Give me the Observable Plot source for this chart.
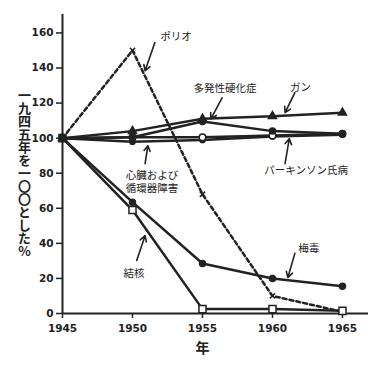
<!DOCTYPE html>
<html><head><meta charset="utf-8">
<script src="https://cdn.jsdelivr.net/npm/d3@7"></script>
<script src="https://cdn.jsdelivr.net/npm/@observablehq/plot@0.6"></script>
<style>
body{margin:0;background:#fff;}
</style>
</head><body><div id="chart"></div>
<script>
const years = [1945, 1950, 1955, 1960, 1965];
const polio = [100, 150, 68, 10, 1];
const tuberculosis = [100, 59, 2.5, 2.5, 1.5];
const syphilis = [100, 63.5, 28.5, 20, 15.5];
const cancer = [100, 104, 111, 112.5, 114.5];
const multipleSclerosis = [100, 100.5, 109.5, 104, 102.5];
const parkinson = [100, 100.5, 100.5, 101.5, 102.5];
const heart = [100, 98, 99, 101, 102];

const yTicks = [0, 20, 40, 60, 80, 100, 120, 140, 160];
const xTicks = [1945, 1950, 1955, 1960, 1965];
const yLabel = "一九四五年を一〇〇とした%";
const xLabel = "年";

const labelTexts = ["ポリオ", "多発性硬化症", "ガン", "パーキンソン氏病", "心臓および", "循環器障害", "結核", "梅毒"];
const labelX = [1953.1, 1956.6, 1962.0, 1962.4, 1951.4, 1951.4, 1950.1, 1962.6];
const labelY = [158, 128, 129, 81.4, 78.8, 71.0, 23, 37];
const arrowX1 = [1951.6, 1956.4, 1961.6, 1960.9, 1950.9, 1950.3, 1961.6];
const arrowY1 = [154.5, 123, 125.9, 85.4, 85.4, 30.2, 34.3];
const arrowX2 = [1950.9, 1955.6, 1960.9, 1961.2, 1951.1, 1950.9, 1961.1];
const arrowY2 = [138.4, 111, 114.5, 99.7, 95.7, 44.4, 20.5];

const seriesList = [
  {name: "ポリオ", values: polio},
  {name: "結核", values: tuberculosis},
  {name: "梅毒", values: syphilis},
  {name: "心臓および循環器障害", values: heart},
  {name: "パーキンソン氏病", values: parkinson},
  {name: "多発性硬化症", values: multipleSclerosis},
  {name: "ガン", values: cancer}
];
const styles = {
  "ポリオ": {dash: "4,3", symbol: "times", fill: "none", r: 2.5},
  "結核": {dash: null, symbol: "square", fill: "white", r: 4},
  "梅毒": {dash: null, symbol: "circle", fill: "#222", r: 3},
  "心臓および循環器障害": {dash: null, symbol: "circle", fill: "#222", r: 2.6},
  "パーキンソン氏病": {dash: null, symbol: "circle", fill: "white", r: 3.3},
  "多発性硬化症": {dash: null, symbol: "circle", fill: "#222", r: 3},
  "ガン": {dash: null, symbol: "triangle", fill: "#222", r: 3}
};

const rows = seriesList.map(s => s.values.map((v, i) => ({series: s.name, year: years[i], value: v})));
const labels = labelTexts.map((t, i) => ({text: t, x: labelX[i], y: labelY[i]}));
const arrows = arrowX1.map((x1, i) => ({x1, y1: arrowY1[i], x2: arrowX2[i], y2: arrowY2[i]}));

const jp = "Noto Sans CJK JP";
const ink = "#222";

const vertical = (index, scales, values, dims, context, next) => {
  const g = next(index, scales, values, dims, context);
  d3.select(g).selectAll("text")
    .style("writing-mode", "vertical-rl")
    .style("text-orientation", "upright")
    .attr("dy", null);
  return g;
};

const marks = [
  Plot.ruleX([1945], {stroke: ink, strokeWidth: 2}),
  Plot.ruleY([0], {stroke: ink, strokeWidth: 2}),
  Plot.axisY({ticks: yTicks, tickSize: 6, tickPadding: 3, label: null, fontWeight: "bold", fontSize: 10.5, stroke: ink, strokeWidth: 1.5}),
  Plot.axisX({ticks: xTicks, tickSize: 5, tickPadding: 6, label: null, tickFormat: d => String(d), fontWeight: "bold", fontSize: 10.5, stroke: ink, strokeWidth: 1.5}),
];
seriesList.forEach((s, k) => {
  const st = styles[s.name];
  marks.push(Plot.line(rows[k], {x: "year", y: "value", stroke: ink, strokeWidth: 2.5, strokeDasharray: st.dash}));
});
seriesList.forEach((s, k) => {
  const st = styles[s.name];
  marks.push(Plot.dot(rows[k], {x: "year", y: "value", symbol: st.symbol, r: st.r, fill: st.fill, stroke: ink, strokeWidth: 1.5}));
});
marks.push(
  Plot.arrow(arrows, {x1: "x1", y1: "y1", x2: "x2", y2: "y2", stroke: ink, strokeWidth: 1.6, headLength: 6}),
  Plot.text(labels, {x: "x", y: "y", text: "text", fontFamily: jp, fontSize: 10.5, fill: ink, letterSpacing: "0.6px"}),
  Plot.text([yLabel], {text: d => d, frameAnchor: "left", dx: -38, dy: 5, textAnchor: "middle", fontFamily: jp, fontSize: 13, fontWeight: "bold", fill: ink, render: vertical}),
  Plot.text([xLabel], {x: [1955], text: d => d, frameAnchor: "bottom", dy: 39, fontFamily: jp, fontSize: 14, fontWeight: "bold", fill: ink})
);

const chart = Plot.plot({
  width: 387,
  height: 370,
  marginLeft: 62,
  marginRight: 19,
  marginTop: 14,
  marginBottom: 57,
  x: {domain: [1945, 1966.86]},
  y: {domain: [0, 170.5]},
  style: {fontFamily: "DejaVu Sans", background: "white", color: ink},
  marks
});
document.getElementById("chart").appendChild(chart);
</script>
</body></html>
